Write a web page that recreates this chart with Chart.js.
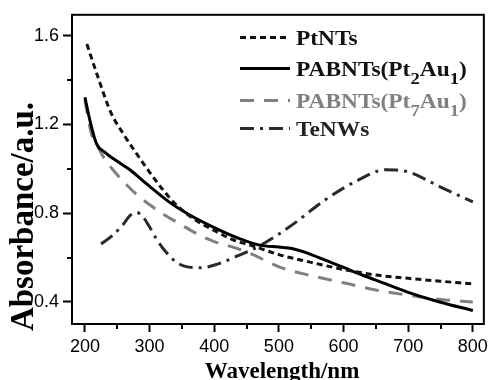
<!DOCTYPE html>
<html>
<head>
<meta charset="utf-8">
<script src="https://cdn.jsdelivr.net/npm/chart.js@4/dist/chart.umd.min.js"></script>
<style>
  html, body { margin: 0; padding: 0; background: #fff; }
  #wrap { width: 492px; height: 380px; }
</style>
</head>
<body>
<div id="wrap"><canvas id="c" width="492" height="380"></canvas></div>
<script>
// ---- data ----
const seriesNames = ['PtNTs', 'PABNTs(Pt2Au1)', 'PABNTs(Pt7Au1)', 'TeNWs'];

const ptntsX = [203, 220, 240, 260, 280, 300, 320, 340, 370, 400, 430, 460, 500, 550, 600, 650, 700, 750, 800];
const ptntsY = [1.563, 1.415, 1.255, 1.155, 1.068, 0.985, 0.908, 0.841, 0.771, 0.722, 0.679, 0.652, 0.613, 0.578, 0.546, 0.521, 0.506, 0.493, 0.481];

const pt2au1X = [200, 208, 218, 230, 250, 270, 295, 330, 360, 400, 440, 470, 500, 520, 545, 570, 600, 630, 660, 700, 750, 800];
const pt2au1Y = [1.323, 1.215, 1.113, 1.077, 1.034, 0.995, 0.933, 0.851, 0.795, 0.735, 0.684, 0.656, 0.647, 0.641, 0.619, 0.590, 0.555, 0.520, 0.487, 0.443, 0.398, 0.361];

const pt7au1X = [200, 210, 220, 230, 245, 265, 285, 305, 325, 345, 370, 400, 430, 460, 500, 550, 600, 650, 700, 750, 800];
const pt7au1Y = [1.310, 1.158, 1.100, 1.047, 0.990, 0.926, 0.872, 0.828, 0.788, 0.755, 0.712, 0.672, 0.646, 0.613, 0.558, 0.518, 0.486, 0.453, 0.430, 0.411, 0.399];

const tenwsX = [225, 243, 258, 270, 280, 290, 300, 310, 325, 340, 355, 380, 405, 435, 470, 520, 570, 620, 665, 700, 750, 800];
const tenwsY = [0.661, 0.700, 0.745, 0.790, 0.803, 0.782, 0.738, 0.686, 0.626, 0.582, 0.560, 0.554, 0.570, 0.606, 0.652, 0.746, 0.857, 0.945, 0.996, 0.986, 0.918, 0.851];

const xTicks = [200, 300, 400, 500, 600, 700, 800];
const xMinorTicks = [250, 350, 450, 550, 650, 750];
const yTicks = [0.4, 0.8, 1.2, 1.6];
const yMinorTicks = [0.6, 1.0, 1.4];

const xTitle = 'Wavelength/nm';
const yTitle = 'Absorbance/a.u.';

// ---- helpers ----
function pts(xs, ys) { return xs.map((x, i) => ({ x: x, y: ys[i] })); }

const styles = [
  { color: '#111111', dash: [6, 4], width: 3 },
  { color: '#000000', dash: [], width: 3 },
  { color: '#808080', dash: [14, 10], width: 3 },
  { color: '#2a2a2a', dash: [14, 6, 3, 6], width: 3 }
];

const legendRows = [
  { parts: [{ t: 'PtNTs' }], y: 37.5, text: '#111111' },
  { parts: [{ t: 'PABNTs(Pt' }, { t: '2', sub: true }, { t: 'Au' }, { t: '1', sub: true }, { t: ')' }], y: 68.5, text: '#111111' },
  { parts: [{ t: 'PABNTs(Pt' }, { t: '7', sub: true }, { t: 'Au' }, { t: '1', sub: true }, { t: ')' }], y: 100.5, text: '#808080' },
  { parts: [{ t: 'TeNWs' }], y: 128.5, text: '#222222' }
];

const framePlugin = {
  id: 'frameAndExtras',
  afterDraw(chart) {
    const ctx = chart.ctx;
    const a = chart.chartArea;
    const xs = chart.scales.x, ys = chart.scales.y;
    ctx.save();
    // frame
    ctx.strokeStyle = '#000';
    ctx.lineWidth = 2;
    ctx.setLineDash([]);
    ctx.strokeRect(a.left, a.top, a.right - a.left, a.bottom - a.top);
    // minor ticks
    ctx.beginPath();
    xMinorTicks.forEach(v => {
      const px = Math.round(xs.getPixelForValue(v));
      ctx.moveTo(px, a.bottom); ctx.lineTo(px, a.bottom + 5);
    });
    yMinorTicks.forEach(v => {
      const py = Math.round(ys.getPixelForValue(v));
      ctx.moveTo(a.left, py); ctx.lineTo(a.left - 5, py);
    });
    ctx.stroke();

    // axis titles
    ctx.fillStyle = '#000';
    ctx.font = 'bold 23px "Liberation Serif", "Times New Roman", serif';
    ctx.textAlign = 'center';
    ctx.textBaseline = 'alphabetic';
    ctx.fillText(xTitle, 282, 378);
    ctx.save();
    ctx.translate(33, 216.5);
    ctx.rotate(-Math.PI / 2);
    ctx.font = 'bold 33px "Liberation Serif", "Times New Roman", serif';
    ctx.fillText(yTitle, 0, 0);
    ctx.restore();

    // legend
    const sx = 1.17;
    legendRows.forEach((row, i) => {
      const st = styles[i];
      ctx.save();
      ctx.strokeStyle = st.color;
      ctx.lineWidth = st.width;
      ctx.setLineDash(st.dash);
      ctx.beginPath();
      ctx.moveTo(240, row.y); ctx.lineTo(290, row.y);
      ctx.stroke();
      ctx.restore();

      ctx.save();
      ctx.translate(296, row.y + 7);
      ctx.scale(sx, 1);
      ctx.fillStyle = row.text;
      ctx.textAlign = 'left';
      ctx.textBaseline = 'alphabetic';
      let x = 0;
      row.parts.forEach(p => {
        if (p.sub) {
          ctx.font = 'bold 16px "Liberation Serif", "Times New Roman", serif';
          ctx.fillText(p.t, x, 8);
        } else {
          ctx.font = 'bold 20px "Liberation Serif", "Times New Roman", serif';
          ctx.fillText(p.t, x, 0);
        }
        x += ctx.measureText(p.t).width;
      });
      ctx.restore();
    });
    ctx.restore();
  }
};

const datasets = [
  [ptntsX, ptntsY], [pt2au1X, pt2au1Y], [pt7au1X, pt7au1Y], [tenwsX, tenwsY]
].map((d, i) => ({
  label: seriesNames[i],
  data: pts(d[0], d[1]),
  borderColor: styles[i].color,
  borderWidth: styles[i].width,
  borderDash: styles[i].dash,
  pointRadius: 0,
  fill: false,
  cubicInterpolationMode: 'monotone',
  borderCapStyle: 'butt'
}));

new Chart(document.getElementById('c'), {
  type: 'line',
  data: { datasets: datasets },
  options: {
    responsive: false,
    devicePixelRatio: 1,
    animation: false,
    layout: { padding: { left: 0, right: 5, top: 13, bottom: 0 } },
    plugins: { legend: { display: false }, tooltip: { enabled: false } },
    scales: {
      x: {
        type: 'linear',
        min: 180, max: 817,
        afterFit(s) { s.height = 56; },
        afterBuildTicks(s) { s.ticks = xTicks.map(v => ({ value: v })); },
        grid: { drawOnChartArea: false, drawTicks: true, tickLength: 8, tickWidth: 2, tickColor: '#000' },
        border: { display: false },
        ticks: {
          color: '#000', padding: 4, maxRotation: 0, autoSkip: false,
          font: { family: '"Liberation Sans", Arial, sans-serif', size: 18 },
          callback: v => String(v)
        }
      },
      y: {
        type: 'linear',
        min: 0.3, max: 1.695,
        afterFit(s) { s.width = 72; },
        afterBuildTicks(s) { s.ticks = yTicks.map(v => ({ value: v })); },
        grid: { drawOnChartArea: false, drawTicks: true, tickLength: 9, tickWidth: 2, tickColor: '#000' },
        border: { display: false },
        ticks: {
          color: '#000', padding: 4, autoSkip: false,
          font: { family: '"Liberation Sans", Arial, sans-serif', size: 18 },
          callback: v => v.toFixed(1)
        }
      }
    }
  },
  plugins: [framePlugin]
});
</script>
</body>
</html>
